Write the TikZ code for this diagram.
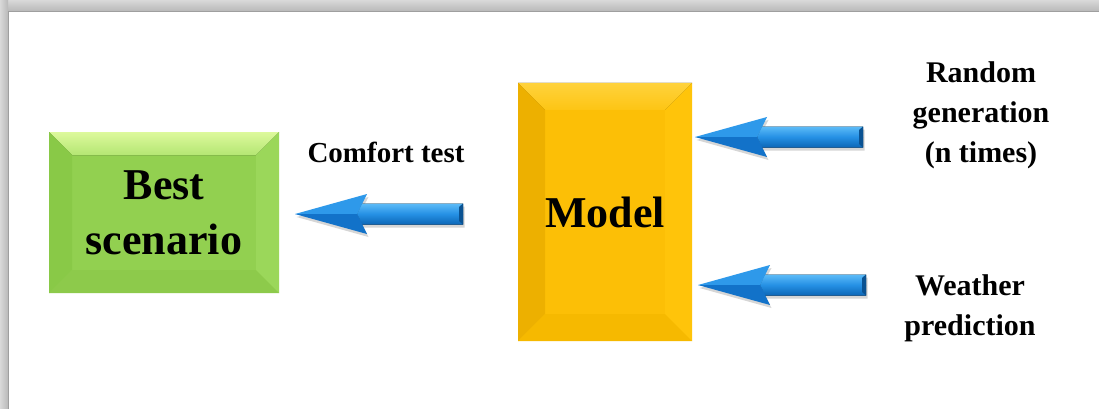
\documentclass[tikz,border=0pt]{standalone}
\usepackage{fontspec}
\setmainfont{Liberation Serif}
\usetikzlibrary{calc,backgrounds}

\definecolor{greenbody}{HTML}{92D050}
\definecolor{greentop}{HTML}{DDF99C}
\definecolor{greentopb}{HTML}{B4E673}
\definecolor{greenleft}{HTML}{89C947}
\definecolor{greenbottom}{HTML}{8DCA4B}
\definecolor{greenright}{HTML}{9BD75A}
\definecolor{yellowbody}{HTML}{FCBF06}
\definecolor{yellowtop}{HTML}{FFD23C}
\definecolor{yellowtopb}{HTML}{FDC514}
\definecolor{yellowleft}{HTML}{EDB000}
\definecolor{yellowbottom}{HTML}{F6B900}
\definecolor{yellowright}{HTML}{FFC40A}
\definecolor{arrowlight}{HTML}{5CBBF8}
\definecolor{arrowmid}{HTML}{2590E4}
\definecolor{arrowdark}{HTML}{0C66B6}
\definecolor{arrowhup}{HTML}{2E99EA}
\definecolor{arrowhlow}{HTML}{1272C9}

\tikzset{
  x=1pt, y=-1pt,
  boxnode/.style={inner sep=0pt, outer sep=0pt, align=center,
    font=\bfseries\fontsize{44}{55}\selectfont},
  lbl/.style={align=center, inner sep=0pt,
    font=\bfseries\fontsize{30}{40}\selectfont},
  arrowshade/.style={fill=black, fill opacity=0.16,
    transform canvas={shift={(1.5pt,-3pt)}}},
}

% bevelled box behind a node: name, inset, body, top, left, bottom, right
\newcommand\bevelbox[7]{%
  \begin{scope}[on background layer]
    \coordinate (#1-a) at ($(#1.north west)+(#2,#2)$);
    \coordinate (#1-b) at ($(#1.north east)+(-#2,#2)$);
    \coordinate (#1-c) at ($(#1.south east)+(-#2,-#2)$);
    \coordinate (#1-d) at ($(#1.south west)+(#2,-#2)$);
    \fill[#3] (#1.north west) rectangle (#1.south east);
    \fill[#4] (#1.north west) -- (#1.north east) -- (#1-b) -- (#1-a) -- cycle;
    \fill[#5] (#1.north west) -- (#1-a) -- (#1-d) -- (#1.south west) -- cycle;
    \fill[#6] (#1.south west) -- (#1-d) -- (#1-c) -- (#1.south east) -- cycle;
    \fill[#7] (#1.north east) -- (#1.south east) -- (#1-c) -- (#1-b) -- cycle;
  \end{scope}}

% left-pointing block arrow: tip coordinate, tail coordinate
\newcommand\blockarrow[2]{%
  \fill[arrowshade] let \p1=(#1), \p2=(#2) in
    (\p1) -- (\x1+72pt,\y1+20pt) -- (\x1+67pt,\y1+10.5pt) -- (\x2,\y1+10.5pt)
    -- (\x2,\y1-10.5pt) -- (\x1+67pt,\y1-10.5pt) -- (\x1+72pt,\y1-20pt) -- cycle;
  \fill[top color=arrowlight, bottom color=arrowmid] let \p1=(#1), \p2=(#2) in
    (\x1+62pt,\y1) -- (\x1+67pt,\y1+10.5pt) -- (\x2,\y1+10.5pt) -- (\x2,\y1) -- cycle;
  \fill[top color=arrowmid, bottom color=arrowdark] let \p1=(#1), \p2=(#2) in
    (\x1+62pt,\y1) -- (\x1+67pt,\y1-10.5pt) -- (\x2,\y1-10.5pt) -- (\x2,\y1) -- cycle;
  \fill[arrowdark!80!black] let \p1=(#1), \p2=(#2) in
    (\x2-4pt,\y1+7pt) -- (\x2,\y1+10.5pt) -- (\x2,\y1-10.5pt) -- (\x2-4pt,\y1-7pt) -- cycle;
  \fill[arrowhup] let \p1=(#1) in
    (\p1) -- (\x1+72pt,\y1+20pt) -- (\x1+62pt,\y1) -- cycle;
  \fill[arrowhlow] let \p1=(#1) in
    (\p1) -- (\x1+62pt,\y1) -- (\x1+72pt,\y1-20pt) -- cycle;
}

\begin{document}
\begin{tikzpicture}
  \useasboundingbox (0,0) rectangle (1099,409);

  % blocks
  \node[boxnode, minimum width=230pt, minimum height=161pt] (best) at (164,212.5)
    {Best\\scenario};
  \node[boxnode, minimum width=174pt, minimum height=258pt] (model) at (605,212)
    {Model};

  % page frame with its shadow along the top and left edges
  \begin{scope}[on background layer]
    \fill[top color=gray!30, bottom color=gray!55] (0,0) rectangle (1099,11);
    \fill[left color=gray!30, right color=gray!55] (0,0) rectangle (8,409);
    \fill[white] (8,11) rectangle (1099,409);
    \draw[gray!75, line width=0.8pt] (8,409) -- (8,11) -- (1099,11);
  \end{scope}

  \bevelbox{best}{23}{greenbody}{top color=greentop, bottom color=greentopb}
    {greenleft}{greenbottom}{greenright}
  \bevelbox{model}{27}{yellowbody}{top color=yellowtop, bottom color=yellowtopb}
    {yellowleft}{yellowbottom}{yellowright}

  % labels
  \node[lbl, font=\bfseries\fontsize{29}{40}\selectfont] (comfort) at (386,152) {Comfort test};
  \node[lbl] (random) at (981,115) {Random\\generation\\(n times)};
  \node[lbl] (weather) at (970,308) {Weather\\prediction};

  % arrow ends
  \coordinate (c-tip) at (295,214);
  \coordinate (c-tail) at (463,214);
  \coordinate (r-tip) at (695,137);
  \coordinate (r-tail) at (863,137);
  \coordinate (w-tip) at (698,285);
  \coordinate (w-tail) at (866,285);

  % connectors
  \blockarrow{c-tip}{c-tail}
  \blockarrow{r-tip}{r-tail}
  \blockarrow{w-tip}{w-tail}
\end{tikzpicture}
\end{document}
